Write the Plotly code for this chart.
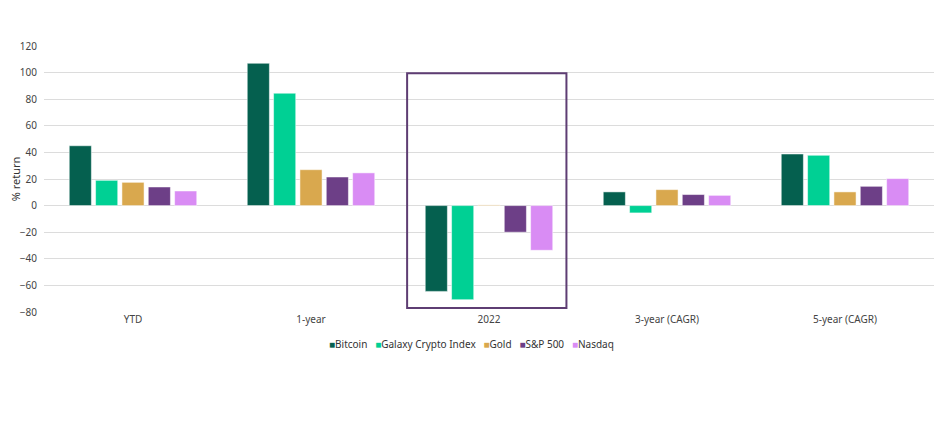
import plotly.graph_objects as go

categories = ["YTD", "1-year", "2022", "3-year (CAGR)", "5-year (CAGR)"]
series_names = ["Bitcoin", "Galaxy Crypto Index", "Gold", "S&P 500", "Nasdaq"]
bitcoin = [45, 107, -64.5, 10.3, 38.8]
galaxy = [19, 84.5, -70.7, -5.5, 37.8]
gold = [17.5, 27, 0.5, 12, 10.3]
sp500 = [14, 21.5, -20, 8.3, 14.5]
nasdaq = [11, 24.6, -33.6, 7.7, 20.3]
colors = ["#05604f", "#00d094", "#d9a84e", "#6d3f87", "#d98cf4"]
y_ticks = [-80, -60, -40, -20, 0, 20, 40, 60, 80, 100, 120]

fig = go.Figure()
for name, vals, col in zip(series_names, [bitcoin, galaxy, gold, sp500, nasdaq], colors):
    fig.add_trace(go.Bar(name=name, x=categories, y=vals, marker_color=col,
                         marker_line_color="white", marker_line_width=0.5))

fig.add_shape(type="rect", xref="x", yref="y", x0=1.54, x1=2.435, y0=-77, y1=99.5,
              line=dict(color="#5e3d73", width=2), fillcolor="rgba(0,0,0,0)", layer="above")

# compact legend as text
legend_html = "&nbsp;&nbsp;&nbsp;".join(
    f"<span style='color:{c}'>■</span>{n}" for n, c in zip(series_names, colors))
fig.add_annotation(text=legend_html, xref="paper", yref="paper", x=0.48, y=-0.12,
                   xanchor="center", yanchor="middle", showarrow=False,
                   font=dict(size=10, color="#333"))

fig.update_layout(
    width=950, height=430,
    margin=dict(l=36, r=24, t=38, b=126, autoexpand=False),
    paper_bgcolor="white", plot_bgcolor="white",
    barmode="group", bargap=0.26, bargroupgap=0.16,
    font=dict(family="Noto Sans, Open Sans, sans-serif", size=10, color="#444"),
    showlegend=False,
)
fig.update_yaxes(range=[-80, 120], tickvals=y_ticks, showgrid=True, gridcolor="#dcdcdc",
                 gridwidth=1, zeroline=True, zerolinecolor="#dcdcdc", zerolinewidth=1,
                 automargin=False,
                 title=dict(text="% return", standoff=8, font=dict(size=11, color="#333")),
                 ticks="", ticklabelstandoff=6, tickfont=dict(size=10, color="#444"))
fig.update_xaxes(showgrid=False, ticks="", tickfont=dict(size=10, color="#444"),
                 showline=False, automargin=False)

fig.write_html("out.html")
